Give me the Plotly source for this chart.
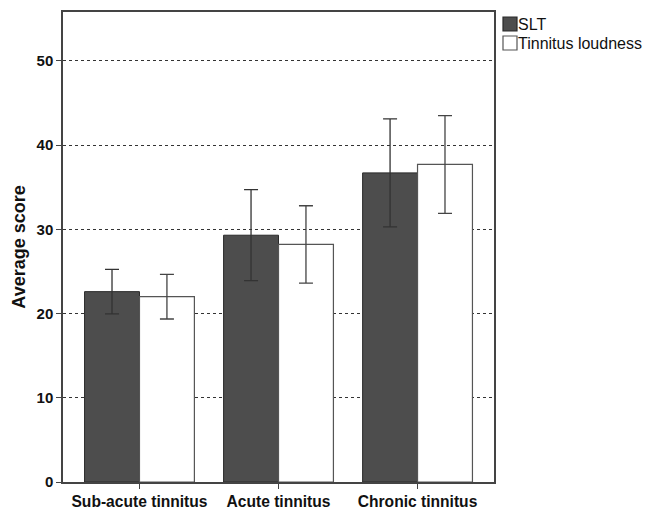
import plotly.graph_objects as go

categories = ["Sub-acute tinnitus", "Acute tinnitus", "Chronic tinnitus"]
series_names = ["SLT", "Tinnitus loudness"]
slt_values = [22.6, 29.3, 36.7]
slt_err = [2.65, 5.4, 6.4]
loud_values = [22.0, 28.2, 37.7]
loud_err = [2.65, 4.6, 5.8]

font = "Liberation Sans, Arial, sans-serif"
slt_fill, slt_line = "#4d4d4d", "#2a2a2a"
loud_fill, loud_line = "white", "#555555"

fig = go.Figure()
fig.add_trace(go.Bar(
    name=series_names[0], x=categories, y=slt_values,
    marker=dict(color=slt_fill, line=dict(color=slt_line, width=1)),
    error_y=dict(type="data", array=slt_err, color="#333333", thickness=1.3, width=7),
))
fig.add_trace(go.Bar(
    name=series_names[1], x=categories, y=loud_values,
    marker=dict(color=loud_fill, line=dict(color=loud_line, width=1.2)),
    error_y=dict(type="data", array=loud_err, color="#444444", thickness=1.3, width=7),
))

W, H = 645, 509
L, R, T, B = 63, 151, 12, 27
pw, ph = W - L - R, H - T - B

def px(xp):
    return (xp - L) / pw

def py(yp):
    return (H - B - yp) / ph

# custom legend (squares + text) outside the plot on the right
legend_items = [
    (series_names[0], slt_fill, slt_line, 17),
    (series_names[1], loud_fill, loud_line, 36),
]
for name, fill, line, ytop in legend_items:
    fig.add_shape(type="rect", xref="paper", yref="paper",
                  x0=px(503), x1=px(517), y0=py(ytop + 14), y1=py(ytop),
                  fillcolor=fill, line=dict(color=line, width=1.2))
    fig.add_annotation(xref="paper", yref="paper", x=px(516), y=py(ytop + 7.5),
                       text=name, showarrow=False, xanchor="left", yanchor="middle",
                       font=dict(size=16, family=font, color="#111111"))

fig.update_layout(
    width=W, height=H,
    margin=dict(l=L, r=R, t=T, b=B, autoexpand=False),
    plot_bgcolor="white", paper_bgcolor="white",
    barmode="group", bargap=0.21, bargroupgap=0,
    font=dict(family=font, color="#111111"),
    showlegend=False,
)
fig.update_xaxes(
    range=[-0.55, 2.55], showline=True, linecolor="#444444", linewidth=1.5, mirror=True,
    ticks="outside", ticklen=5, tickcolor="#444444",
    tickfont=dict(size=15.6, family=font, color="#111111", weight="bold"),
    showgrid=False, automargin=False,
)
fig.update_yaxes(
    range=[0, 55.8], dtick=10, showline=True, linecolor="#444444", linewidth=1.5, mirror=True,
    ticks="outside", ticklen=5, tickcolor="#444444",
    tickfont=dict(size=15, family=font, color="#111111", weight="bold"),
    showgrid=True, gridcolor="#333333", gridwidth=1, griddash="dot",
    zeroline=False, automargin=False,
    title=dict(text="Average score", font=dict(size=18, family=font, color="#111111", weight="bold"), standoff=6),
)
fig.write_html("out.html", config={"displayModeBar": False},
               post_script="document.body.style.margin='0px';document.body.style.overflow='hidden';")
